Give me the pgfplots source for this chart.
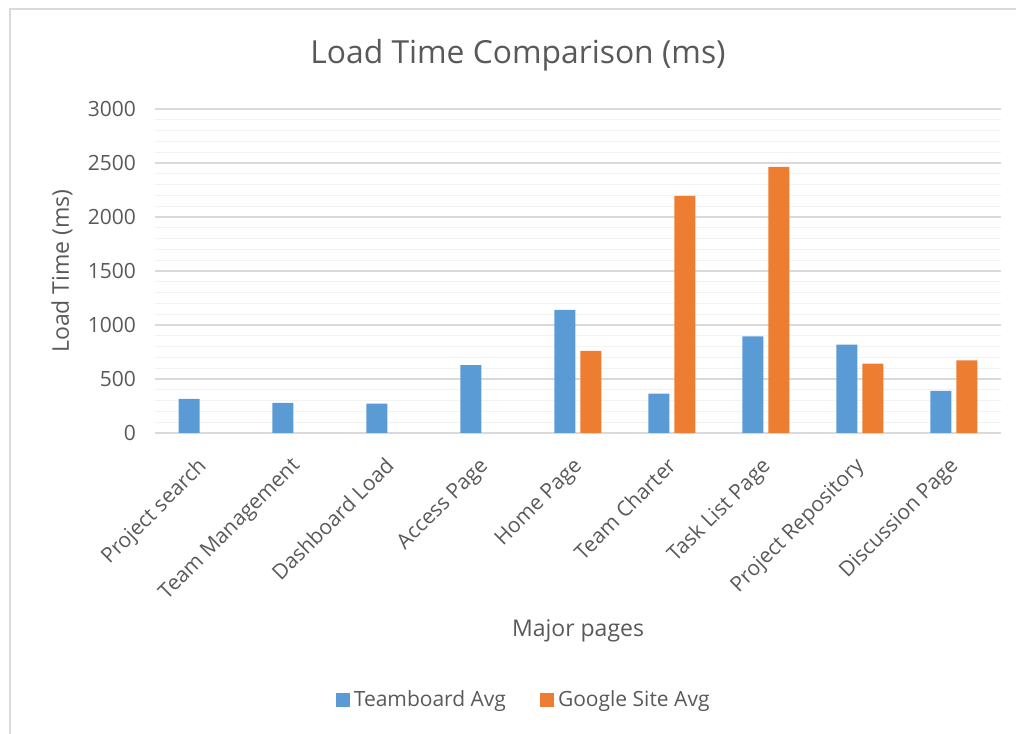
\documentclass[border=0pt]{standalone}
\usepackage{fontspec}
\setmainfont{Open Sans}
\usepackage{pgfplots}
\pgfplotsset{compat=1.18}
\definecolor{tblue}{HTML}{5B9BD5}
\definecolor{gorange}{HTML}{ED7D31}
\definecolor{txt}{HTML}{595959}
\definecolor{gmaj}{HTML}{D9D9D9}
\definecolor{gmin}{HTML}{F2F2F2}

\begin{document}
\begin{tikzpicture}
\useasboundingbox (0,0) rectangle (508pt,366.5pt);
\draw[gmaj,line width=1pt] (5pt,-100pt) -- (5pt,361.75pt) -- (700pt,361.75pt);
\begin{axis}[at={(77.5pt,150pt)}, anchor=south west,
  scale only axis, width=423pt, height=162pt,
  ybar=2.5pt, bar width=10.5pt,
  xmin=-0.5, xmax=8.5, ymin=0, ymax=3000,
  xtick={0,...,8},
  xticklabels={Project search, Team Management, Dashboard Load, Access Page, Home Page, Team Charter, Task List Page, Project Repository, Discussion Page},
  ytick={0,500,...,3000}, minor y tick num=4,
  ymajorgrids, yminorgrids,
  major grid style={gmaj,line width=0.8pt},
  minor grid style={gmin,line width=0.6pt},
  axis line style={draw=none}, tick style={draw=none},
  /pgf/number format/assume math mode=true,
  /pgf/number format/1000 sep={},
  yticklabel style={font=\fontsize{10.5}{12}\selectfont, text=txt, xshift=-6pt},
  xticklabel style={font=\fontsize{10.5}{12}\selectfont, text=txt, inner sep=0pt, xshift=-3pt, yshift=-7pt, rotate=45, anchor=north east},
  legend style={at={(0.437,-0.824)}, anchor=center, legend columns=2, draw=none, fill=none,
    font=\fontsize{10.5}{12}\selectfont, text=txt,
    /tikz/every even column/.append style={column sep=15pt}},
  legend image code/.code={\fill[#1] (0pt,-3.5pt) rectangle (7pt,3.5pt);},
  clip=false]
\addplot[fill=tblue, draw=none] coordinates {(0,315) (1,278) (2,271) (3,629) (4,1141) (5,364) (6,894) (7,818) (8,389)};
\addplot[fill=gorange, draw=none] coordinates {(4,761) (5,2196) (6,2464) (7,642) (8,672)};
\legend{Teamboard Avg, Google Site Avg}
\end{axis}
\node[text=txt, font=\fontsize{15.9}{19}\selectfont] at (259pt,339pt) {Load Time Comparison (ms)};
\node[text=txt, font=\fontsize{11.5}{14}\selectfont, rotate=90] at (31pt,231pt) {Load Time (ms)};
\node[text=txt, font=\fontsize{11.5}{14}\selectfont] at (289pt,51pt) {Major pages};
\end{tikzpicture}
\end{document}
